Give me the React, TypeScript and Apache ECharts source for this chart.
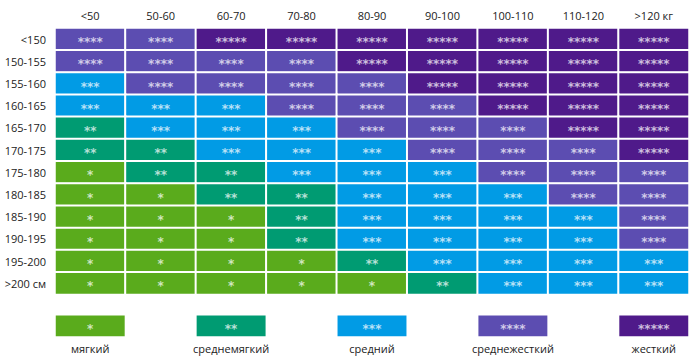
import React, { useEffect, useRef } from "react";
import * as echarts from "echarts";

const weightCats = ["<50", "50-60", "60-70", "70-80", "80-90", "90-100", "100-110", "110-120", ">120 кг"];
const heightCats = ["<150", "150-155", "155-160", "160-165", "165-170", "170-175", "175-180", "180-185", "185-190", "190-195", "195-200", ">200 см"];
const levels = [
  [4, 4, 5, 5, 5, 5, 5, 5, 5],
  [4, 4, 4, 4, 5, 5, 5, 5, 5],
  [3, 4, 4, 4, 4, 5, 5, 5, 5],
  [3, 3, 3, 4, 4, 4, 5, 5, 5],
  [2, 3, 3, 3, 4, 4, 4, 5, 5],
  [2, 2, 3, 3, 3, 4, 4, 4, 5],
  [1, 2, 2, 3, 3, 3, 4, 4, 4],
  [1, 1, 2, 2, 3, 3, 3, 4, 4],
  [1, 1, 1, 2, 3, 3, 3, 3, 4],
  [1, 1, 1, 2, 3, 3, 3, 3, 4],
  [1, 1, 1, 1, 2, 3, 3, 3, 3],
  [1, 1, 1, 1, 1, 2, 3, 3, 3],
];
const legendNames = ["мягкий", "среднемягкий", "средний", "среднежесткий", "жесткий"];
const legendLevels = [1, 2, 3, 4, 5];
const levelColors = ["#5aab1c", "#009b72", "#019be5", "#5c4db1", "#4f1a8a"];

const FONT = "'Open Sans', 'DejaVu Sans', sans-serif";

export default function App() {
  const ref = useRef<HTMLDivElement>(null);
  useEffect(() => {
    if (!ref.current) return;
    const chart = echarts.init(ref.current, null, { renderer: "svg" });
    const data: number[][] = [];
    levels.forEach((row, r) => row.forEach((v, c) => data.push([c, r, v])));
    const legendCats = weightCats.map(() => "");
    legendNames.forEach((n, i) => (legendCats[i * 2] = n));
    const legendData = legendLevels.map((v, i) => [i * 2, 0, v]);
    const label = {
      show: true,
      formatter: (p: any) => "*".repeat(p.value[2]),
      color: "rgba(255,255,255,0.72)",
      fontSize: 12,
      fontWeight: "bold" as const,
      fontFamily: "DejaVu Sans",
      offset: [0, 3],
    };
    chart.setOption({
      animation: false,
      backgroundColor: "#ffffff",
      grid: [
        { left: 55, right: 11, top: 28, bottom: 65.5 },
        { left: 55, right: 11, top: 314.7, height: 22.3 },
      ],
      xAxis: [
        {
          type: "category",
          data: weightCats,
          position: "top",
          gridIndex: 0,
          axisLine: { show: false },
          axisTick: { show: false },
          splitLine: { show: false },
          axisLabel: { color: "#222", fontSize: 11, fontFamily: FONT, margin: 7 },
        },
        {
          type: "category",
          data: legendCats,
          position: "bottom",
          gridIndex: 1,
          axisLine: { show: false },
          axisTick: { show: false },
          axisLabel: { color: "#222", fontSize: 11, fontFamily: FONT, margin: 6, interval: 0 },
        },
      ],
      yAxis: [
        {
          type: "category",
          data: heightCats,
          inverse: true,
          gridIndex: 0,
          axisLine: { show: false },
          axisTick: { show: false },
          axisLabel: { color: "#222", fontSize: 11, fontFamily: FONT, margin: 9 },
        },
        {
          type: "category",
          data: [""],
          gridIndex: 1,
          axisLine: { show: false },
          axisTick: { show: false },
          axisLabel: { show: false },
        },
      ],
      visualMap: {
        show: false,
        type: "piecewise",
        dimension: 2,
        seriesIndex: [0, 1],
        pieces: legendLevels.map((v, i) => ({ value: v, color: levelColors[i] })),
      },
      series: [
        {
          type: "heatmap",
          xAxisIndex: 0,
          yAxisIndex: 0,
          data,
          label,
          itemStyle: { borderColor: "#ffffff", borderWidth: 2 },
          emphasis: { disabled: true },
        },
        {
          type: "heatmap",
          xAxisIndex: 1,
          yAxisIndex: 1,
          data: legendData,
          label,
          itemStyle: { borderColor: "#ffffff", borderWidth: 2 },
          emphasis: { disabled: true },
        },
      ],
    });
    return () => chart.dispose();
  }, []);
  return <div ref={ref} style={{ width: 700, height: 360, position: "absolute", left: 0, top: 0 }} />;
}
